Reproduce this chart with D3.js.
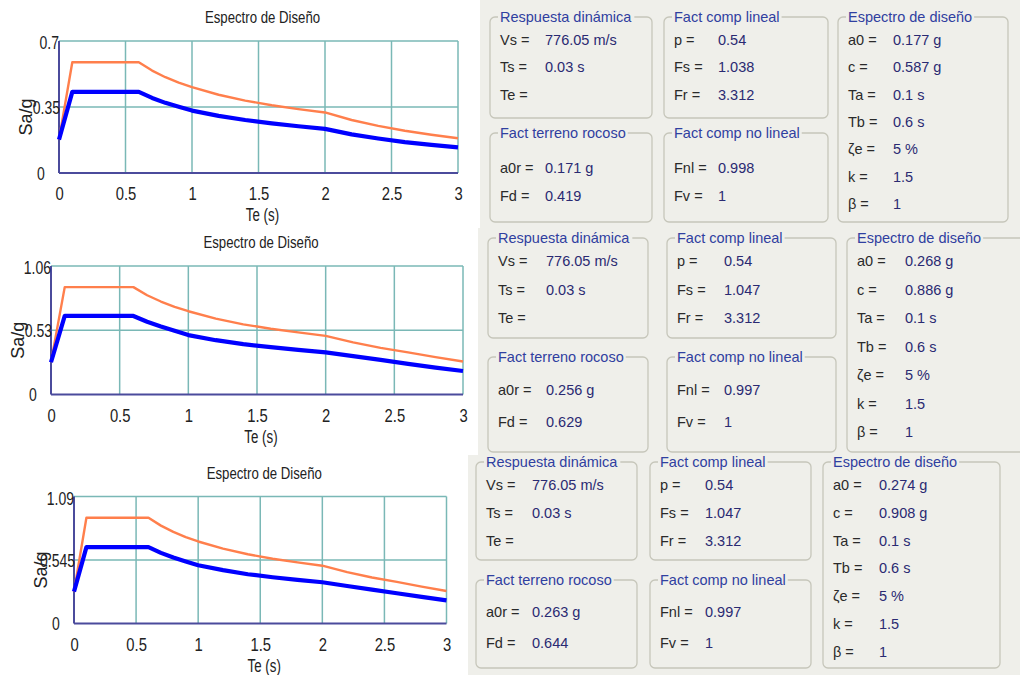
<!DOCTYPE html>
<html>
<head>
<meta charset="utf-8">
<script src="https://cdn.jsdelivr.net/npm/d3@7"></script>
<style>
  html, body { margin: 0; padding: 0; background: #ffffff; }
  svg { display: block; }
</style>
</head>
<body>
<svg id="root" width="1020" height="675"></svg>
<script>
// ---------------- DATA ----------------
const periods = [0, 0.1, 0.6, 0.7, 0.8, 0.9, 1.0, 1.2, 1.4, 1.6, 1.8, 2.0, 2.2, 2.4, 2.6, 2.8, 3.0];

const design1  = [0.177, 0.587, 0.587, 0.543, 0.508, 0.479, 0.455, 0.415, 0.384, 0.359, 0.339, 0.321, 0.281, 0.250, 0.224, 0.203, 0.184];
const elastic1 = [0.177, 0.430, 0.430, 0.398, 0.372, 0.351, 0.331, 0.303, 0.281, 0.263, 0.248, 0.234, 0.205, 0.183, 0.164, 0.149, 0.136];

const design2  = [0.267, 0.886, 0.886, 0.819, 0.767, 0.723, 0.687, 0.626, 0.579, 0.542, 0.512, 0.484, 0.430, 0.385, 0.348, 0.308, 0.272];
const elastic2 = [0.266, 0.648, 0.648, 0.600, 0.561, 0.525, 0.490, 0.448, 0.415, 0.391, 0.368, 0.348, 0.316, 0.285, 0.253, 0.222, 0.194];

const design3  = [0.274, 0.908, 0.908, 0.840, 0.786, 0.741, 0.704, 0.642, 0.594, 0.556, 0.525, 0.496, 0.441, 0.395, 0.357, 0.316, 0.279];
const elastic3 = [0.274, 0.655, 0.655, 0.606, 0.567, 0.533, 0.500, 0.458, 0.423, 0.397, 0.374, 0.354, 0.322, 0.291, 0.260, 0.228, 0.199];

const yMaxes = [0.7, 1.06, 1.09];
const yTickLabels1 = ["0", "0.35", "0.7"];
const yTickLabels2 = ["0", "0.53", "1.06"];
const yTickLabels3 = ["0", "0.545", "1.09"];
const xTickValues = [0, 0.5, 1, 1.5, 2, 2.5, 3];
const xTickLabels = ["0", "0.5", "1", "1.5", "2", "2.5", "3"];

const chartTitle = "Espectro de Diseño";
const xAxisTitle = "Te (s)";
const yAxisTitle = "Sa/g";

// Panel texts
const groupTitles = ["Respuesta dinámica", "Fact comp lineal", "Espectro de diseño", "Fact terreno rocoso", "Fact comp no lineal"];
const respLabels = ["Vs =", "Ts =", "Te ="];
const respValues = [["776.05 m/s", "0.03 s", ""], ["776.05 m/s", "0.03 s", ""], ["776.05 m/s", "0.03 s", ""]];
const linLabels = ["p =", "Fs =", "Fr ="];
const linValues = [["0.54", "1.038", "3.312"], ["0.54", "1.047", "3.312"], ["0.54", "1.047", "3.312"]];
const espLabels = ["a0 =", "c =", "Ta =", "Tb =", "ζe =", "k =", "β ="];
const espValues = [
  ["0.177 g", "0.587 g", "0.1 s", "0.6 s", "5 %", "1.5", "1"],
  ["0.268 g", "0.886 g", "0.1 s", "0.6 s", "5 %", "1.5", "1"],
  ["0.274 g", "0.908 g", "0.1 s", "0.6 s", "5 %", "1.5", "1"]
];
const rocLabels = ["a0r =", "Fd ="];
const rocValues = [["0.171 g", "0.419"], ["0.256 g", "0.629"], ["0.263 g", "0.644"]];
const nlLabels = ["Fnl =", "Fv ="];
const nlValues = [["0.998", "1"], ["0.997", "1"], ["0.997", "1"]];

// ---------------- LAYOUT ----------------
const svg = d3.select("#root");
const chartFont = "'Liberation Sans', Arial, sans-serif";
const COL = {
  orange: "#ff7f4c", blue: "#0000ff", grid: "#7ab8b6", axis: "#4b4b9c", text: "#222222",
  panelBg: "#efefea", boxStroke: "#c6c6ba", groupTitle: "#3040a0", label: "#2a2a2a", value: "#2a2a72"
};

const charts = [
  {left: 59, right: 458, top: 41, bottom: 173, yMax: yMaxes[0], yLabels: yTickLabels1, design: design1, elastic: elastic1},
  {left: 51, right: 463, top: 266, bottom: 394.5, yMax: yMaxes[1], yLabels: yTickLabels2, design: design2, elastic: elastic2},
  {left: 74, right: 446.5, top: 496.5, bottom: 623.5, yMax: yMaxes[2], yLabels: yTickLabels3, design: design3, elastic: elastic3}
];

function ctext(g, x, y, str, size, sx, anchor, color, rotate) {
  return g.append("text")
    .attr("transform", `translate(${x},${y})` + (rotate ? ` rotate(${rotate})` : "") + ` scale(${sx},1)`)
    .attr("text-anchor", anchor)
    .attr("font-family", chartFont)
    .attr("font-size", size)
    .attr("fill", color)
    .text(str);
}

charts.forEach(c => {
  const g = svg.append("g");
  const x = d3.scaleLinear().domain([0, 3]).range([c.left, c.right]);
  const y = d3.scaleLinear().domain([0, c.yMax]).range([c.bottom, c.top]);
  const yTicks = [0, c.yMax / 2, c.yMax];

  g.append("g").selectAll("line").data(xTickValues.slice(1)).join("line")
    .attr("x1", d => x(d)).attr("x2", d => x(d))
    .attr("y1", y(c.yMax)).attr("y2", y(0))
    .attr("stroke", COL.grid).attr("stroke-width", 1.5);
  g.append("g").selectAll("line").data(yTicks.slice(1)).join("line")
    .attr("x1", x(0)).attr("x2", x(3))
    .attr("y1", d => y(d)).attr("y2", d => y(d))
    .attr("stroke", COL.grid).attr("stroke-width", 1.5);

  g.append("line").attr("x1", x(0)).attr("x2", x(0)).attr("y1", y(c.yMax)).attr("y2", y(0))
    .attr("stroke", COL.axis).attr("stroke-width", 2);
  g.append("line").attr("x1", x(0)).attr("x2", x(3)).attr("y1", y(0)).attr("y2", y(0))
    .attr("stroke", COL.axis).attr("stroke-width", 2);

  const xAxis = d3.axisBottom(x).tickValues(xTickValues).tickFormat((d, i) => xTickLabels[i])
    .tickSize(0).tickPadding(14);
  const ax = g.append("g").attr("transform", `translate(0,${y(0)})`).call(xAxis);
  ax.select(".domain").remove();
  ax.selectAll("text")
    .attr("font-family", chartFont).attr("font-size", 18.5).attr("fill", COL.text)
    .attr("transform", "scale(0.8,1)");

  c.yLabels.forEach((lab, i) => {
    const v = yTicks[i];
    if (i === 0) {
      ctext(g, x(0) - 18, y(v) + 6.5, lab, 17.5, 0.8, "middle", COL.text);
    } else if (i === 2) {
      ctext(g, x(0) + 0, y(v) + 8, lab, 17.5, 0.8, "end", COL.text);
    } else {
      ctext(g, x(0) + 1, y(v) + 6.5, lab, 17.5, 0.8, "end", COL.text);
    }
  });

  const line = d3.line().x((d, i) => x(periods[i])).y(d => y(d));
  g.append("path").datum(c.design).attr("d", line)
    .attr("fill", "none").attr("stroke", COL.orange).attr("stroke-width", 2.4).attr("stroke-linejoin", "round");
  g.append("path").datum(c.elastic).attr("d", line)
    .attr("fill", "none").attr("stroke", COL.blue).attr("stroke-width", 4.2).attr("stroke-linejoin", "round");

  const cx = (c.left + c.right) / 2 + 4;
  ctext(g, cx, c.top - 18, chartTitle, 16.5, 0.8, "middle", COL.text);
  ctext(g, cx, c.bottom + 48, xAxisTitle, 18.5, 0.72, "middle", COL.text);
  ctext(g, x(0) - 27, (c.top + c.bottom) / 2 + 10, yAxisTitle, 18, 1.0, "middle", COL.text, -90);
});

// ---------------- PANELS ----------------
const panels = [
  {bg: [480, 0, 540, 228], ox: 490, oy: 17, cols: [0, 174, 348], widths: [162, 164, 170], hTop: 101, yBot: 116, hAll: 205,
   row: 27.3, botRows: [35, 63], valOff: 45},
  {bg: [478, 228, 542, 227], ox: 488, oy: 238, cols: [0, 179, 359], widths: [160, 169, 185], hTop: 100, yBot: 119, hAll: 214,
   row: 28.5, botRows: [33, 65], valOff: 48},
  {bg: [468, 455, 552, 220], ox: 476, oy: 462, cols: [0, 174, 347], widths: [161, 161, 177], hTop: 98, yBot: 118, hAll: 206,
   row: 27.8, botRows: [32, 63], valOff: 46}
];

const pFont = "'Liberation Sans', Arial, sans-serif";
const pSize = 14.5;

function groupBox(g, x, y, w, h, title) {
  g.append("rect").attr("x", x).attr("y", y).attr("width", w).attr("height", h)
    .attr("rx", 5).attr("ry", 5).attr("fill", "none").attr("stroke", COL.boxStroke).attr("stroke-width", 1.3);
  const mask = g.append("rect");
  const t = g.append("text").attr("x", x + 10).attr("y", y + 5)
    .attr("font-family", pFont).attr("font-size", pSize).attr("fill", COL.groupTitle).text(title);
  const bb = t.node().getBBox();
  mask.attr("x", bb.x - 2).attr("y", y - 3).attr("width", bb.width + 4).attr("height", 6)
    .attr("fill", COL.panelBg);
}

function rowText(g, x, y, label, value, valOff) {
  g.append("text").attr("x", x).attr("y", y + 5)
    .attr("font-family", pFont).attr("font-size", pSize).attr("fill", COL.label).text(label);
  g.append("text").attr("x", x + valOff).attr("y", y + 5)
    .attr("font-family", pFont).attr("font-size", pSize).attr("fill", COL.value).text(value);
}

panels.forEach((p, pi) => {
  const g = svg.append("g");
  g.append("rect").attr("x", p.bg[0]).attr("y", p.bg[1]).attr("width", p.bg[2]).attr("height", p.bg[3])
    .attr("fill", COL.panelBg);
  const xA = p.ox + p.cols[0], xB = p.ox + p.cols[1], xC = p.ox + p.cols[2];
  groupBox(g, xA, p.oy, p.widths[0], p.hTop, groupTitles[0]);
  groupBox(g, xB, p.oy, p.widths[1], p.hTop, groupTitles[1]);
  groupBox(g, xC, p.oy, p.widths[2], p.hAll, groupTitles[2]);
  groupBox(g, xA, p.oy + p.yBot, p.widths[0], p.hAll - p.yBot, groupTitles[3]);
  groupBox(g, xB, p.oy + p.yBot, p.widths[1], p.hAll - p.yBot, groupTitles[4]);

  respLabels.forEach((l, i) => rowText(g, xA + 10, p.oy + 23 + i * p.row, l, respValues[pi][i], p.valOff));
  linLabels.forEach((l, i) => rowText(g, xB + 10, p.oy + 23 + i * p.row, l, linValues[pi][i], p.valOff - 1));
  espLabels.forEach((l, i) => rowText(g, xC + 10, p.oy + 23 + i * p.row, l, espValues[pi][i], p.valOff));
  rocLabels.forEach((l, i) => rowText(g, xA + 10, p.oy + p.yBot + p.botRows[i], l, rocValues[pi][i], p.valOff));
  nlLabels.forEach((l, i) => rowText(g, xB + 10, p.oy + p.yBot + p.botRows[i], l, nlValues[pi][i], p.valOff - 1));
});
</script>
</body>
</html>
